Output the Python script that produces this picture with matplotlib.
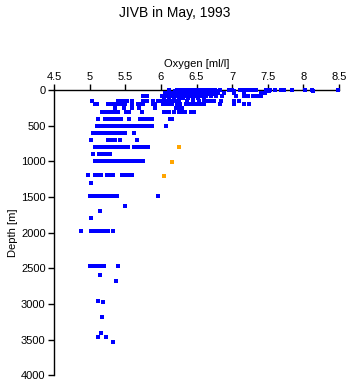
import matplotlib.pyplot as plt

plt.rcParams['font.family'] = ['Liberation Sans', 'DejaVu Sans']

# blue casts, one line per depth level (oxygen in ml/l, depth in m)
blue_oxygen = [
    6.12, 6.22, 6.25, 6.28, 6.31, 6.34, 6.36, 6.39, 6.42, 6.45, 6.48, 6.51, 6.54, 6.57, 6.60, 6.63, 6.66, 6.69, 6.71, 6.76,
    6.83, 6.95, 6.98, 7.00, 7.11, 7.16, 7.20, 7.25, 7.30, 7.34, 7.48, 7.53, 7.60, 7.68, 7.72, 7.84, 8.02, 8.12, 8.49,
    6.20, 6.26, 6.33, 6.40, 6.47, 6.55, 6.62, 6.70, 6.80, 7.02, 7.52, 8.13,
    6.06, 6.10, 6.14, 6.18, 6.23, 6.27, 6.31, 6.36, 6.40, 6.45, 6.50, 6.55, 6.60, 6.66, 6.72, 6.80, 6.88, 7.02, 7.16, 7.40, 7.46,
    6.08, 6.15, 6.21, 6.28, 6.34, 6.41, 6.48, 6.56, 6.64, 6.75,
    5.75, 5.80, 6.02, 6.07, 6.12, 6.17, 6.22, 6.28, 6.33, 6.38, 6.44, 6.50, 6.57, 6.63, 6.70, 6.78, 6.86, 7.06, 7.16, 7.22,
    7.29, 7.35, 7.41,
    6.05, 6.12, 6.19, 6.25, 6.31, 6.38, 6.45, 6.52, 6.60,
    5.04, 5.40, 5.44, 5.47, 5.53, 5.59, 5.75, 5.80, 5.89, 5.96, 6.00, 6.05, 6.10, 6.15, 6.20, 6.26, 6.37, 6.45, 6.53, 6.61,
    6.64, 6.70, 6.75, 6.85, 7.02, 7.09,
    5.08, 5.11, 5.26, 5.30, 5.34, 5.38, 5.44, 5.50, 5.60, 5.68, 5.72, 5.75, 5.89, 5.92, 6.03, 6.07, 6.11, 6.15, 6.22, 6.27,
    6.35, 6.40, 6.45, 6.51, 6.56, 6.60, 6.83, 7.02, 7.17, 7.24,
    5.35, 5.49, 5.60, 5.69, 5.92, 6.21, 6.25, 6.29,
    5.18, 5.22, 5.26, 5.29, 5.32, 5.36, 5.40, 5.51, 5.55, 5.73, 6.04, 6.07, 6.12, 6.19, 6.25, 6.30, 6.34, 6.42, 6.47,
    5.12, 5.22, 5.26, 5.30, 5.34, 5.39, 5.44, 5.55, 5.71, 5.75, 5.78, 5.82, 5.87, 6.13, 6.15,
    5.10, 5.14, 5.18, 5.22, 5.26, 5.30, 5.34, 5.38, 5.42, 5.46, 5.50, 5.54, 5.57, 5.61, 5.65, 5.70, 5.75, 5.80, 5.85, 5.88,
    6.07,
    5.05, 5.09, 5.13, 5.17, 5.21, 5.25, 5.29, 5.33, 5.37, 5.41, 5.45, 5.50, 5.63,
    5.02, 5.26, 5.30, 5.35, 5.43, 5.67,
    5.08, 5.12, 5.16, 5.20, 5.24, 5.28, 5.32, 5.36, 5.40, 5.44, 5.48, 5.54, 5.63, 5.67, 5.71, 5.76, 5.82,
    5.05, 5.13, 5.17, 5.21, 5.26, 5.29,
    5.07, 5.11, 5.15, 5.19, 5.23, 5.29, 5.32, 5.36, 5.40, 5.44, 5.48, 5.52, 5.57, 5.61, 5.65, 5.70, 5.75,
    4.98, 5.07, 5.11, 5.16, 5.24, 5.28, 5.33, 5.45, 5.49, 5.53, 5.57, 5.60,
    5.02,
    5.01, 5.05, 5.09, 5.13, 5.17, 5.21, 5.25, 5.29, 5.33, 5.36, 5.39, 5.96,
    5.50,
    5.15,
    5.02,
    4.88, 5.02, 5.06, 5.10, 5.14, 5.18, 5.22, 5.26, 5.33,
    5.00, 5.06, 5.10, 5.14, 5.18, 5.20, 5.40,
    5.14,
    5.37,
    5.12, 5.19,
    5.18,
    5.16, 5.12, 5.23,
    5.33,
]
blue_depth = [
    5, 5, 5, 5, 5, 5, 5, 5, 5, 5, 5, 5, 5, 5, 5, 5, 5, 5, 5, 5,
    5, 5, 5, 5, 5, 5, 5, 5, 5, 5, 5, 5, 5, 5, 5, 5, 5, 5, 5,
    20, 20, 20, 20, 20, 20, 20, 20, 20, 20, 20, 20,
    40, 40, 40, 40, 40, 40, 40, 40, 40, 40, 40, 40, 40, 40, 40, 40, 40, 40, 40, 40, 40,
    60, 60, 60, 60, 60, 60, 60, 60, 60, 60,
    85, 85, 85, 85, 85, 85, 85, 85, 85, 85, 85, 85, 85, 85, 85, 85, 85, 85, 85, 85,
    85, 85, 85,
    110, 110, 110, 110, 110, 110, 110, 110, 110,
    150, 150, 150, 150, 150, 150, 150, 150, 150, 150, 150, 150, 150, 150, 150, 150, 150, 150, 150, 150,
    150, 150, 150, 150, 150, 150,
    205, 205, 205, 205, 205, 205, 205, 205, 205, 205, 205, 205, 205, 205, 205, 205, 205, 205, 205, 205,
    205, 205, 205, 205, 205, 205, 205, 205, 205, 205,
    255, 255, 255, 255, 255, 255, 255, 255,
    305, 305, 305, 305, 305, 305, 305, 305, 305, 305, 305, 305, 305, 305, 305, 305, 305, 305, 305,
    405, 405, 405, 405, 405, 405, 405, 405, 405, 405, 405, 405, 405, 405, 405,
    510, 510, 510, 510, 510, 510, 510, 510, 510, 510, 510, 510, 510, 510, 510, 510, 510, 510, 510, 510,
    510,
    605, 605, 605, 605, 605, 605, 605, 605, 605, 605, 605, 605, 605,
    705, 705, 705, 705, 705, 705,
    805, 805, 805, 805, 805, 805, 805, 805, 805, 805, 805, 805, 805, 805, 805, 805, 805,
    900, 900, 900, 900, 900, 900,
    1000, 1000, 1000, 1000, 1000, 1000, 1000, 1000, 1000, 1000, 1000, 1000, 1000, 1000, 1000, 1000, 1000,
    1200, 1200, 1200, 1200, 1200, 1200, 1200, 1200, 1200, 1200, 1200, 1200,
    1300,
    1495, 1495, 1495, 1495, 1495, 1495, 1495, 1495, 1495, 1495, 1495, 1495,
    1630,
    1705,
    1795,
    1985, 1985, 1985, 1985, 1985, 1985, 1985, 1985, 1985,
    2475, 2475, 2475, 2475, 2475, 2475, 2475,
    2600,
    2685,
    2960, 2980,
    3180,
    3415, 3465, 3465,
    3530,
]

# orange cast
orange_oxygen = [6.26, 6.15, 6.05]
orange_depth = [805, 1010, 1205]

fig = plt.figure(figsize=(3.5, 3.84), dpi=100)
ax = fig.add_axes([0.154, 0.023, 0.815, 0.743])

ax.scatter(blue_oxygen, blue_depth, s=5, marker='s', color='#0000ff', linewidths=0,
           zorder=3, clip_on=False, antialiased=False)
ax.scatter(orange_oxygen, orange_depth, s=5, marker='s', color='#ffa500', linewidths=0,
           zorder=3, clip_on=False, antialiased=False)

ax.set_xlim(4.5, 8.5)
ax.set_ylim(4000, 0)
ax.set_xticks([4.5, 5, 5.5, 6, 6.5, 7, 7.5, 8, 8.5])
ax.set_xticklabels(['4.5', '5', '5.5', '6', '6.5', '7', '7.5', '8', '8.5'])
ax.set_yticks(range(0, 4001, 500))

ax.xaxis.set_ticks_position('top')
ax.xaxis.set_label_position('top')
ax.spines['right'].set_visible(False)
ax.spines['bottom'].set_visible(False)
for s in ['top', 'left']:
    ax.spines[s].set_linewidth(1.0)
ax.tick_params(direction='out', length=4, width=1.0, labelsize=8, pad=2)

ax.set_xlabel('Oxygen [ml/l]', fontsize=8, labelpad=3)
ax.set_ylabel('Depth [m]', fontsize=8, labelpad=2)
fig.suptitle('JIVB in May, 1993', fontsize=10, y=0.985)

fig.savefig('out.png', dpi=100)
